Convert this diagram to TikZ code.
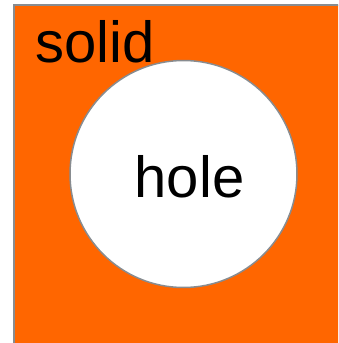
\documentclass[tikz,border=0pt]{standalone}
\usepackage{fontspec}
\setmainfont{Liberation Sans}
\usepackage{xcolor}
\definecolor{solidorange}{HTML}{FF6600}
\definecolor{edgegray}{HTML}{888C90}
\usetikzlibrary{positioning}

\begin{document}
\begin{tikzpicture}[x=1pt,y=1pt,
  every node/.style={inner sep=0pt,font=\fontsize{58}{60}\selectfont},
  region/.style={draw=edgegray,line width=2pt,fill=solidorange},
  gap/.style={circle,draw=edgegray,line width=1.5pt,fill=white,minimum size=227pt}]
\useasboundingbox (0,0) rectangle (338,-343);
\clip (0,0) rectangle (338,-343);
\draw[region] (14,-5) rectangle (350,-360);
\node[gap] (hole) at (183.5,-174) {};
\node[anchor=base west] (solidlabel) at (35,-62) {solid};
\node[anchor=base] (holelabel) at (189.5,-197.5) {hole};
\end{tikzpicture}
\end{document}
